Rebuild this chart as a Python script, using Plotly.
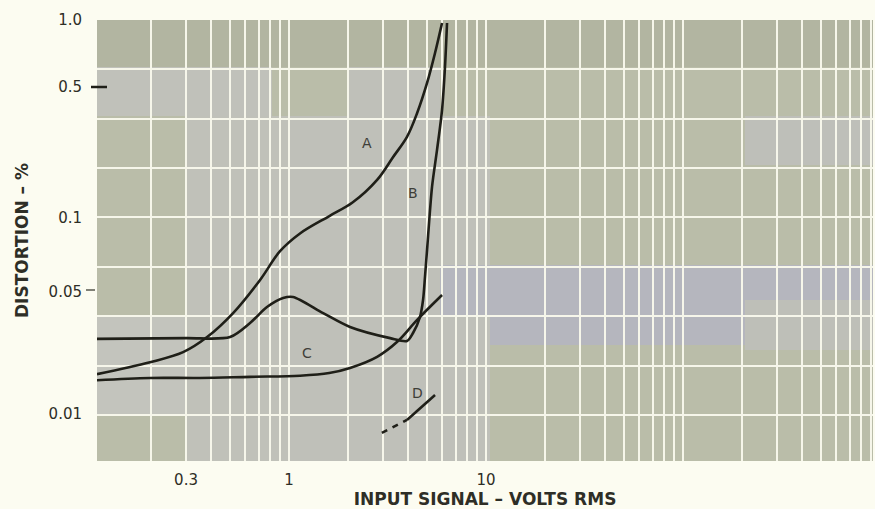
import numpy as np
import plotly.graph_objects as go

# ---- data ----
a_x = [0.106, 0.197, 0.290, 0.384, 0.520, 0.713, 0.900, 1.137, 1.61, 2.10, 2.80, 3.37, 3.97, 4.47, 5.02, 5.51, 5.98]
a_y = [0.0161, 0.0185, 0.0208, 0.0248, 0.0328, 0.0483, 0.0675, 0.0830, 0.1020, 0.119, 0.155, 0.202, 0.256, 0.338, 0.480, 0.681, 0.966]

b_x = [0.106, 0.30, 0.502, 0.634, 0.773, 0.933, 1.048, 1.49, 2.04, 3.26, 3.97, 4.26, 4.62, 4.79, 4.90, 5.02, 5.32, 5.64, 5.98, 6.19, 6.34]
b_y = [0.0243, 0.0245, 0.0248, 0.0292, 0.0352, 0.0391, 0.0396, 0.0328, 0.0279, 0.0245, 0.0237, 0.0260, 0.0313, 0.0382, 0.050, 0.0685, 0.143, 0.220, 0.350, 0.578, 0.966]

c_x = [0.106, 0.197, 0.353, 0.634, 1.137, 1.60, 2.04, 2.80, 3.53, 4.47, 5.98]
c_y = [0.0150, 0.0154, 0.0154, 0.0156, 0.0158, 0.0163, 0.0173, 0.0197, 0.0234, 0.0303, 0.0405]

d_dash_x = [2.96, 3.97]
d_dash_y = [0.00811, 0.00944]
d_solid_x = [3.97, 5.51]
d_solid_y = [0.00944, 0.01262]

curve_labels = ["A", "B", "C", "D"]
label_x = [2.49, 4.26, 1.234, 4.47]
label_y = [0.238, 0.133, 0.0206, 0.0129]

x_tickvals = [0.3, 1, 10]
x_ticktext = ["0.3", "1", "10"]
y_tickvals = [1.0, 0.457, 0.1, 0.0422, 0.0101]
y_ticktext = ["1.0", "0.5", "0.1", "0.05", "0.01"]

# ---- styling ----
W, H = 875, 509
L, R, T, B = 97, 2, 20, 48
PW, PH = W - L - R, H - T - B
ink = "#1f1f18"
txt = "#2e2e26"
grid = "#f6f6ea"

fig = go.Figure()
for xs, ys, sm in [(a_x, a_y, 1.0), (b_x, b_y, 0.8), (c_x, c_y, 1.0)]:
    fig.add_trace(go.Scatter(x=xs, y=ys, mode="lines",
                             line=dict(color=ink, width=2.6, shape="spline", smoothing=sm),
                             hoverinfo="skip", showlegend=False))
fig.add_trace(go.Scatter(x=d_dash_x, y=d_dash_y, mode="lines", hoverinfo="skip",
                         line=dict(color=ink, width=2.6, dash="6px,6px"), showlegend=False))
fig.add_trace(go.Scatter(x=d_solid_x, y=d_solid_y, mode="lines", hoverinfo="skip",
                         line=dict(color=ink, width=2.6), showlegend=False))

for t, lx, ly in zip(curve_labels, label_x, label_y):
    fig.add_annotation(x=np.log10(lx), y=np.log10(ly), text=t, showarrow=False,
                       font=dict(family="DejaVu Sans", size=14, color="#3e3e38"))

# background patches of the scanned paper (pixel rectangles -> domain fractions)
def patch(x0, y0, x1, y1, color):
    fig.add_shape(type="rect", xref="x domain", yref="y domain",
                  x0=(x0 - L) / PW, x1=(x1 - L) / PW,
                  y0=(T + PH - y1) / PH, y1=(T + PH - y0) / PH,
                  fillcolor=color, line=dict(width=0), layer="below")

patch(97, 20, 873, 67, "#b2b5a1")
patch(97, 67, 272, 116, "#c0c1ba")
patch(187, 116, 290, 461, "#c0c1b9")
patch(97, 317, 187, 415, "#c3c4bd")
patch(290, 116, 490, 461, "#bfc0b9")
patch(347, 67, 440, 116, "#bfc0b9")
patch(440, 265, 873, 317, "#b5b6be")
patch(490, 317, 745, 345, "#b5b6be")
patch(745, 116, 873, 165, "#bebfb9")
patch(745, 300, 873, 350, "#bebfb8")

# small dashes by the 0.5 and 0.05 labels
fig.add_shape(type="line", xref="paper", yref="paper",
              x0=(91 - L) / PW, x1=(107 - L) / PW, y0=(T + PH - 87) / PH, y1=(T + PH - 87) / PH,
              line=dict(color=ink, width=2.5))
fig.add_shape(type="line", xref="paper", yref="paper",
              x0=(86 - L) / PW, x1=(95 - L) / PW, y0=(T + PH - 290) / PH, y1=(T + PH - 290) / PH,
              line=dict(color=txt, width=1.2))

x_minor = [m * 10.0 ** k for k in range(-1, 3) for m in range(1, 10)]
y_minor = [10 ** (-0.25 * k) for k in range(1, 9)]

fig.update_layout(
    width=W, height=H,
    margin=dict(l=L, r=R, t=T, b=B),
    paper_bgcolor="#fcfcf1",
    plot_bgcolor="#babda9",
    hovermode=False,
    font=dict(family="DejaVu Sans", color=txt),
    xaxis=dict(type="log", range=[np.log10(0.106), np.log10(921)],
               tickvals=x_tickvals, ticktext=x_ticktext, ticks="",
               showgrid=True, gridcolor=grid, gridwidth=2.2,
               minor=dict(tickvals=x_minor, showgrid=True, gridcolor=grid, gridwidth=2.2, ticks=""),
               showline=False, zeroline=False,
               tickfont=dict(size=15, color=txt), ticklabelstandoff=8,
               title=dict(text="<b>INPUT SIGNAL – VOLTS RMS</b>", font=dict(size=17, color=txt), standoff=3)),
    yaxis=dict(type="log", range=[-2.233, 0.0],
               tickvals=y_tickvals, ticktext=y_ticktext, ticks="",
               showgrid=False,
               minor=dict(tickvals=y_minor, showgrid=True, gridcolor=grid, gridwidth=2.2, ticks=""),
               showline=False, zeroline=False,
               tickfont=dict(size=15, color=txt), ticklabelstandoff=14,
               title=dict(text="<b>DISTORTION – %</b>", font=dict(size=17, color=txt), standoff=15)),
)

fig.write_html("out.html", config={"displayModeBar": False},
               post_script="document.body.style.margin='0px';document.body.style.overflow='hidden';")
